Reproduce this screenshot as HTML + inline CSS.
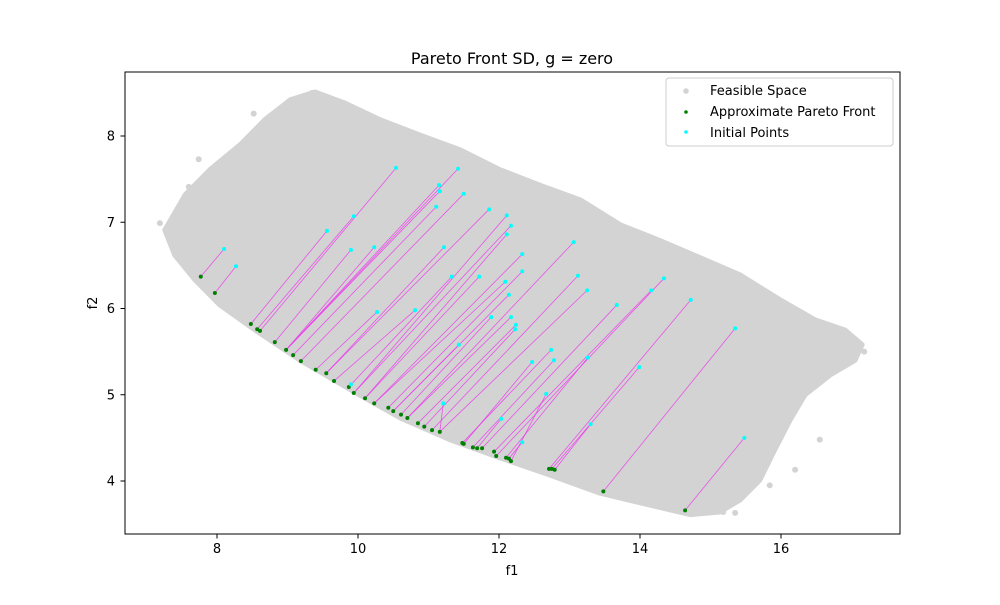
<!DOCTYPE html>
<html><head><meta charset="utf-8">
<style>
html,body{margin:0;padding:0;background:#fff;}
svg text{font-family:"DejaVu Sans","Liberation Sans",sans-serif;}
</style></head>
<body>
<svg id="chart" width="1000" height="600" viewBox="0 0 1000 600" xmlns="http://www.w3.org/2000/svg">
<rect x="0" y="0" width="1000" height="600" fill="#fff"/>
<g id="plot"></g>
<rect x="125" y="72" width="775" height="462" fill="none" stroke="#000" stroke-width="1"/>
<g id="xticks"></g>
<g id="yticks"></g>
<text x="512" y="64" font-size="16" text-anchor="middle">Pareto Front SD, g = zero</text>
<text x="512" y="575" font-size="13" text-anchor="middle">f1</text>
<text x="0" y="0" font-size="13" text-anchor="middle" transform="translate(97,303) rotate(-90)">f2</text>
<g>
<rect x="666" y="78" width="227" height="68" rx="3" fill="#fff" fill-opacity="0.8" stroke="#ccc"/>
<circle cx="686" cy="91" r="2.8" fill="#d3d3d3"/>
<text x="710" y="95" font-size="13">Feasible Space</text>
<circle cx="686" cy="112" r="1.8" fill="green"/>
<text x="710" y="116" font-size="13">Approximate Pareto Front</text>
<circle cx="686" cy="132" r="1.8" fill="cyan"/>
<text x="710" y="137" font-size="13">Initial Points</text>
</g>
</svg>
<script>
const xTicks = [8, 10, 12, 14, 16];
const yTicks = [4, 5, 6, 7, 8];
const feasX = [7.26,7.55,7.90,8.33,8.68,9.04,9.39,9.82,10.31,10.88,11.45,12.01,12.58,13.15,13.72,14.28,14.85,15.42,15.99,16.48,16.91,17.15,17.05,16.70,16.34,16.13,15.91,15.70,15.42,15.13,14.71,14.14,13.43,12.72,12.01,11.30,10.60,9.89,9.18,8.54,8.04,7.69,7.40];
const feasY = [6.91,7.32,7.61,7.90,8.19,8.42,8.51,8.38,8.19,8.01,7.84,7.61,7.43,7.26,6.97,6.79,6.59,6.39,6.10,5.87,5.75,5.58,5.40,5.23,5.00,4.71,4.36,4.01,3.78,3.64,3.61,3.72,3.86,4.07,4.27,4.48,4.73,5.06,5.40,5.75,6.04,6.33,6.62];
const outX = [7.19,7.33,7.45,7.60,7.74,8.16,8.52,9.35,9.40,17.18,16.98,16.77,16.62,15.35,15.18,15.84,16.20,16.55,12.87,14.85];
const outY = [6.99,6.84,6.82,7.41,7.73,7.74,8.26,8.50,8.50,5.50,5.61,5.66,5.34,3.63,3.64,3.95,4.13,4.48,4.13,3.72];
const paretoX = [7.77,7.97,8.48,8.57,8.61,8.82,8.98,9.08,9.19,9.40,9.55,9.66,9.87,9.94,10.10,10.23,10.43,10.50,10.61,10.70,10.85,10.94,11.05,11.16,11.48,11.50,11.63,11.69,11.76,11.93,11.96,12.10,12.14,12.17,12.71,12.75,12.79,13.48,14.64];
const paretoY = [6.37,6.18,5.82,5.76,5.74,5.61,5.52,5.46,5.39,5.29,5.25,5.16,5.09,5.02,4.96,4.90,4.85,4.81,4.77,4.73,4.67,4.63,4.59,4.57,4.44,4.43,4.39,4.38,4.38,4.34,4.29,4.27,4.26,4.23,4.14,4.14,4.13,3.88,3.66];
const initX = [8.10,8.27,10.54,11.42,11.15,11.16,11.50,11.11,11.86,9.94,9.56,9.90,10.23,11.22,11.33,11.72,10.27,10.81,11.43,9.90,11.21,12.11,12.17,12.11,12.33,13.06,12.33,12.09,13.12,14.34,13.25,12.14,14.16,13.67,14.72,11.89,12.17,12.24,12.23,15.35,12.74,12.78,12.47,13.26,13.99,12.67,12.03,13.30,12.33,15.48];
const initY = [6.69,6.49,7.63,7.62,7.43,7.36,7.33,7.18,7.15,7.07,6.90,6.68,6.71,6.71,6.37,6.37,5.96,5.98,5.58,5.12,4.90,7.08,6.96,6.86,6.63,6.77,6.43,6.31,6.38,6.35,6.21,6.16,6.21,6.04,6.10,5.90,5.90,5.81,5.76,5.77,5.52,5.40,5.38,5.43,5.32,5.01,4.72,4.66,4.45,4.50];
const links = [0,1,4,6,6,6,8,7,10,3,2,5,6,10,12,14,9,11,17,12,23,13,13,14,15,19,16,15,22,30,23,17,29,28,34,18,19,20,21,37,24,26,25,31,35,33,27,36,32,38];

const NS = "http://www.w3.org/2000/svg";
function sx(v){ return 217 + (v - 8) * 70.5; }
function sy(v){ return 136 + (8 - v) * 86.25; }
function mk(tag, attrs, parent){
  const e = document.createElementNS(NS, tag);
  for (const k in attrs) e.setAttribute(k, attrs[k]);
  parent.appendChild(e);
  return e;
}
const plot = document.getElementById('plot');
const clip = mk('clipPath', {id:'clipArea'}, plot);
mk('rect', {x:125, y:72, width:775, height:462}, clip);
plot.setAttribute('clip-path', 'url(#clipArea)');

const pts = feasX.map((x,i)=>sx(x).toFixed(1)+','+sy(feasY[i]).toFixed(1)).join(' ');
const poly = mk('polygon', {points: pts, fill:'#d3d3d3', stroke:'#d3d3d3', 'stroke-width':5, 'stroke-linejoin':'round'}, plot);


outX.forEach((x,i)=>{
  const c = mk('circle', {cx:sx(x), cy:sy(outY[i]), r:3, fill:'#d3d3d3'}, plot);
  
  
});
initX.forEach((x,i)=>{
  const j = links[i];
  const l = mk('line', {x1:sx(x), y1:sy(initY[i]), x2:sx(paretoX[j]), y2:sy(paretoY[j]), stroke:'#ee33ee', 'stroke-width':0.8, 'stroke-opacity':0.8}, plot);
  
  
});
paretoX.forEach((x,i)=>{
  const c = mk('circle', {cx:sx(x), cy:sy(paretoY[i]), r:2, fill:'green'}, plot);
  
  
});
initX.forEach((x,i)=>{
  const c = mk('circle', {cx:sx(x), cy:sy(initY[i]), r:2, fill:'cyan'}, plot);
  
  
});
const xg = document.getElementById('xticks');
xTicks.forEach(t=>{
  const X = sx(t);
  const tl = mk('line', {x1:X, y1:534, x2:X, y2:538.5, stroke:'#000'}, xg);
  
  
  const tx = mk('text', {x:X, y:553, 'font-size':13, 'text-anchor':'middle'}, xg);
  tx.textContent = t;
  
  
});
const yg = document.getElementById('yticks');
yTicks.forEach(t=>{
  const Y = sy(t);
  const tl = mk('line', {x1:120.5, y1:Y, x2:125, y2:Y, stroke:'#000'}, yg);
  
  
  const tx = mk('text', {x:115, y:Y+4.5, 'font-size':13, 'text-anchor':'end'}, yg);
  tx.textContent = t;
  
  
});
</script>
</body></html>
